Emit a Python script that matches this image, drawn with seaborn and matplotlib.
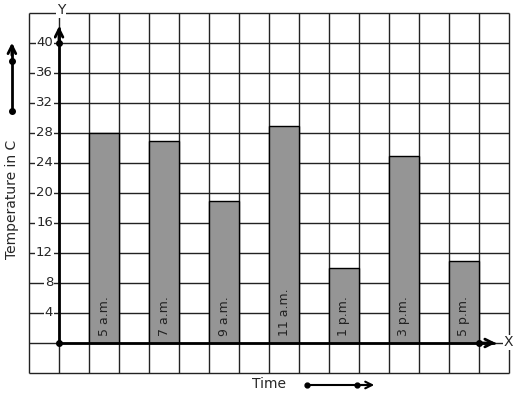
import numpy as np
import matplotlib
matplotlib.use("Agg")
import matplotlib.pyplot as plt
import pandas as pd
import seaborn as sns

times = ["5 a.m.", "7 a.m.", "9 a.m.", "11 a.m.", "1 p.m.", "3 p.m.", "5 p.m."]
temps = [28, 27, 19, 29, 10, 25, 11]
y_ticks = [4, 8, 12, 16, 20, 24, 28, 32, 36, 40]

sns.set_style("white")
plt.rcParams["font.family"] = ["DejaVu Sans"]

# one grid cell = 1 unit on x, 4 degrees on y; bars sit on every other cell
df = pd.DataFrame({"time": times, "temp": temps})
df["pos"] = 1.5 + 2 * np.arange(len(times))

fig = plt.figure(figsize=(5.17, 3.99), dpi=100)
ax = fig.add_axes([0, 0, 1, 1])

sns.barplot(data=df, x="pos", y="temp", native_scale=True, width=0.5,
            color="#959595", saturation=1, edgecolor="black", linewidth=1,
            ax=ax, zorder=2)

# square grid
ax.vlines(np.arange(-1, 16), -4, 44, color="#222222", lw=1, zorder=1)
ax.hlines(np.arange(-4, 45, 4), -1, 15, color="#222222", lw=1, zorder=1)

# axes with arrows
ax.plot([0, 0], [0, 42], color="black", lw=2, zorder=3)
ax.plot([0, 14.5], [0, 0], color="black", lw=2, zorder=3)
ax.annotate("", xy=(0, 42.6), xytext=(0, 40), zorder=4,
            arrowprops=dict(arrowstyle="->", lw=2, color="black", mutation_scale=14))
ax.annotate("", xy=(14.65, 0), xytext=(14, 0), zorder=4,
            arrowprops=dict(arrowstyle="->", lw=2, color="black", mutation_scale=14))
ax.plot([0, 0, 14], [0, 40, 0], "o", color="black", ms=4, zorder=5)

ax.text(0.07, 44.4, "Y", ha="center", va="center", fontsize=10, zorder=6,
        bbox=dict(facecolor="white", edgecolor="none", pad=0.5))
ax.text(14.97, 0.1, "X", ha="center", va="center", fontsize=10, zorder=6,
        bbox=dict(facecolor="white", edgecolor="none", pad=0.3))

for v in y_ticks:
    ax.text(-0.2, v, str(v), ha="right", va="center", fontsize=9.5, zorder=6,
            bbox=dict(facecolor="white", edgecolor="none", pad=0.5))

for p, t in zip(df["pos"], df["time"]):
    ax.text(p, 1.0, t, rotation=90, ha="center", va="bottom", fontsize=9,
            color="#222222", zorder=6)

# axis titles with decorative arrows
ax.text(-1.57, 19.1, "Temperature in C", rotation=90, ha="center", va="center",
        fontsize=10)
ax.plot([-1.57, -1.57], [30.9, 39.6], color="black", lw=2)
ax.annotate("", xy=(-1.57, 40.4), xytext=(-1.57, 38), 
            arrowprops=dict(arrowstyle="->", lw=2, color="black", mutation_scale=14))
ax.plot([-1.57, -1.57], [30.9, 37.6], "o", color="black", ms=4)

ax.text(7.0, -5.5, "Time", ha="center", va="center", fontsize=10)
ax.plot([8.27, 10.4], [-5.6, -5.6], color="black", lw=1.5)
ax.annotate("", xy=(10.6, -5.6), xytext=(9.9, -5.6),
            arrowprops=dict(arrowstyle="->", lw=1.5, color="black", mutation_scale=12))
ax.plot([8.27, 9.93], [-5.6, -5.6], "o", color="black", ms=3.5)

ax.set_xlim(-59 / 30, 458 / 30)
ax.set_ylim(-56 * 4 / 30, 343 * 4 / 30)
ax.axis("off")

fig.savefig("out.png", dpi=100)
